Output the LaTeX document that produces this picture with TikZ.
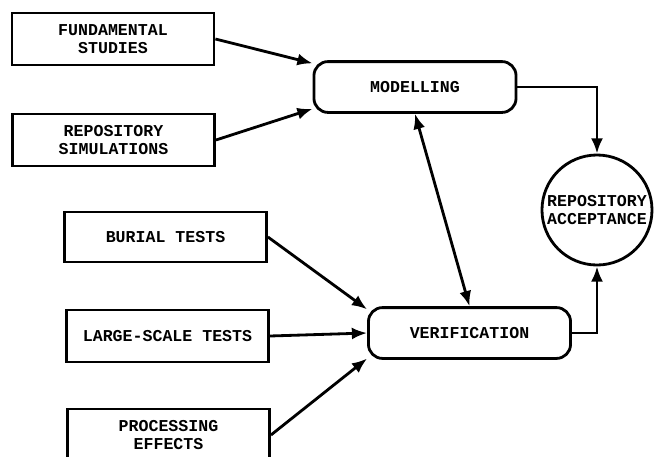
\documentclass[tikz,border=0pt]{standalone}
\usepackage{fontspec}
\newfontfamily\boxfont{Liberation Mono}
\usetikzlibrary{arrows.meta}

\begin{document}
\begin{tikzpicture}[x=0.025cm, y=-0.025cm,
  every node/.style={font=\boxfont\bfseries\fontsize{11.8}{12.5}\selectfont, align=center},
  inbox/.style={draw, line width=2pt, minimum width=5.05cm, minimum height=1.3cm, inner sep=0pt},
  stagebox/.style={draw, line width=2pt, rounded corners=0.35cm, minimum width=5.05cm, minimum height=1.27cm, inner sep=0pt},
  goal/.style={draw, circle, line width=2pt, minimum size=2.75cm, inner sep=0pt},
  flow/.style={line width=2pt, -{Latex[length=0.38cm, width=0.3cm]}},
  bothflow/.style={line width=2pt, {Latex[length=0.38cm, width=0.3cm]}-{Latex[length=0.38cm, width=0.3cm]}}]

\useasboundingbox (0,0) rectangle (660,456);

% input boxes
\node[inbox] (fund) at (113,39) {FUNDAMENTAL\\STUDIES};
\node[inbox] (sims) at (113.5,140) {REPOSITORY\\SIMULATIONS};
\node[inbox, minimum height=1.25cm] (burial) at (165.5,237) {BURIAL TESTS};
\node[inbox] (large) at (167.5,336) {LARGE-SCALE TESTS};
\node[inbox] (proc) at (168.5,435) {PROCESSING\\EFFECTS};

% stages
\node[stagebox] (model) at (415,87) {MODELLING};
\node[stagebox] (verif) at (469.5,333) {VERIFICATION};
\node[goal] (accept) at (597,210) {REPOSITORY\\ACCEPTANCE};

% arrows
\draw[flow] (fund.east) -- (model.167);
\draw[flow] (sims.east) -- (model.192);
\draw[flow] (burial.east) -- (verif.167);
\draw[flow] (large.east) -- (verif.west);
\draw[flow] (proc.east) -- (verif.194);
\draw[bothflow] (model.south) -- (verif.north);
\draw[flow] (model.east) -| (accept.north);
\draw[flow] (verif.east) -| (accept.south);

\end{tikzpicture}
\end{document}
